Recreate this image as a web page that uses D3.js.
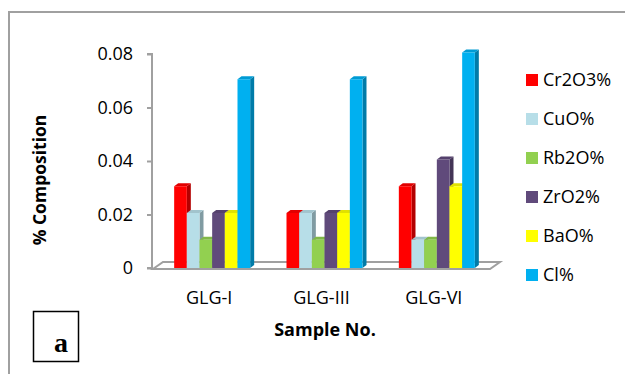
<!DOCTYPE html>
<html><head><meta charset="utf-8">
<script src="https://cdn.jsdelivr.net/npm/d3@7/dist/d3.min.js"></script>
<style>
body{margin:0;background:#fff;}
svg{display:block;}
text{font-family:"Open Sans",sans-serif;fill:#000;}
</style></head>
<body>
<svg id="c" width="625" height="374"></svg>
<script>
const categories = ["GLG-I","GLG-III","GLG-VI"];
const seriesNames = ["Cr2O3%","CuO%","Rb2O%","ZrO2%","BaO%","Cl%"];
const Cr2O3 = [0.03,0.02,0.03];
const CuO   = [0.02,0.02,0.01];
const Rb2O  = [0.01,0.01,0.01];
const ZrO2  = [0.02,0.02,0.04];
const BaO   = [0.02,0.02,0.03];
const Cl    = [0.07,0.07,0.08];
const yTicks = [0,0.02,0.04,0.06,0.08];
const colors = ["#FF0000","#B7DEE8","#92D050","#604A7B","#FFFF00","#00B0F0"];
const seriesValues = [Cr2O3,CuO,Rb2O,ZrO2,BaO,Cl];

const svg = d3.select("#c");
// outer frame
svg.append("path").attr("d","M9,374 L9,12 L625,12").attr("fill","none").attr("stroke","#a0a0a0").attr("stroke-width",2);

const y = d3.scaleLinear().domain([0,0.08]).range([268,54]);
const x = d3.scaleBand().domain(categories).range([153,490]).paddingInner(0.3234).paddingOuter(0.1617);
const xs = d3.scaleBand().domain(seriesNames).range([0,x.bandwidth()]);
const DX=10, DY=-7; // floor depth
const bx=4, by=-3;  // bar depth

// floor
svg.append("path")
  .attr("d",`M${153},${y(0)+1} L${490},${y(0)+1} L${490+DX},${y(0)+1+DY} L${153+DX},${y(0)+1+DY} Z`)
  .attr("fill","#fff").attr("stroke","#a0a0a0").attr("stroke-width",2);

// y axis
const yAxis = d3.axisLeft(y).tickValues(yTicks).tickFormat(d=>d===0?"0":d3.format(".2f")(d)).tickSize(5).tickPadding(14);
const ga = svg.append("g").attr("transform","translate(152,0)").call(yAxis);
ga.select(".domain").attr("stroke","#a0a0a0").attr("stroke-width",2).attr("d",`M-5,${y(0.08)}H0V${y(0)}H-5`);
ga.selectAll(".tick line").attr("stroke","#a0a0a0").attr("stroke-width",2);
ga.selectAll(".tick text").style("font-family","Open Sans").attr("font-size",18).attr("fill","#000");

// bars
function darker(c,k){return d3.color(c).darker(k).formatHex();}
categories.forEach((cat,ci)=>{
  seriesNames.forEach((s,si)=>{
    const v = seriesValues[si][ci];
    const x0 = x(cat)+3+xs(s), w = xs.bandwidth();
    const yt = y(v)-1.5, yb = y(0);
    const g = svg.append("g");
    g.append("path").attr("d",`M${x0+w},${yb} L${x0+w},${yt} L${x0+w+bx},${yt+by} L${x0+w+bx},${yb+by} Z`).attr("fill",darker(colors[si],1.0));
    g.append("path").attr("d",`M${x0},${yt} L${x0+w},${yt} L${x0+w+bx},${yt+by} L${x0+bx},${yt+by} Z`).attr("fill",darker(colors[si],0.35));
    g.append("rect").attr("x",x0).attr("y",yt).attr("width",w).attr("height",yb-yt).attr("fill",colors[si]);
  });
});

// x labels
svg.selectAll(".xl").data(categories).enter().append("text")
  .attr("x",d=>x(d)+x.bandwidth()/2).attr("y",304).attr("text-anchor","middle")
  .attr("font-size",18).text(d=>d);

// axis titles
svg.append("text").attr("x",325).attr("y",336).attr("text-anchor","middle").attr("font-weight","bold").attr("font-size",18).text("Sample No.");
svg.append("text").attr("transform","translate(46,180) rotate(-90)").attr("text-anchor","middle").attr("font-weight","bold").attr("font-size",17.5).text("% Composition");

// legend
const lg = svg.selectAll(".lg").data(seriesNames).enter().append("g").attr("transform",(d,i)=>`translate(526,${80+i*39})`);
lg.append("rect").attr("x",0).attr("y",-6).attr("width",12).attr("height",12).attr("fill",(d,i)=>colors[i]);
lg.append("text").attr("x",17).attr("y",6).attr("font-size",18).text(d=>d);

// label box "a"
svg.append("rect").attr("x",33.5).attr("y",311.5).attr("width",45).attr("height",50).attr("fill","#fff").attr("stroke","#000").attr("stroke-width",1.5);
svg.append("text").attr("x",61).attr("y",352).attr("text-anchor","middle").style("font-family","'Liberation Serif', 'DejaVu Serif', serif").attr("font-weight","bold").attr("font-size",28).text("a");
</script>
</body></html>
